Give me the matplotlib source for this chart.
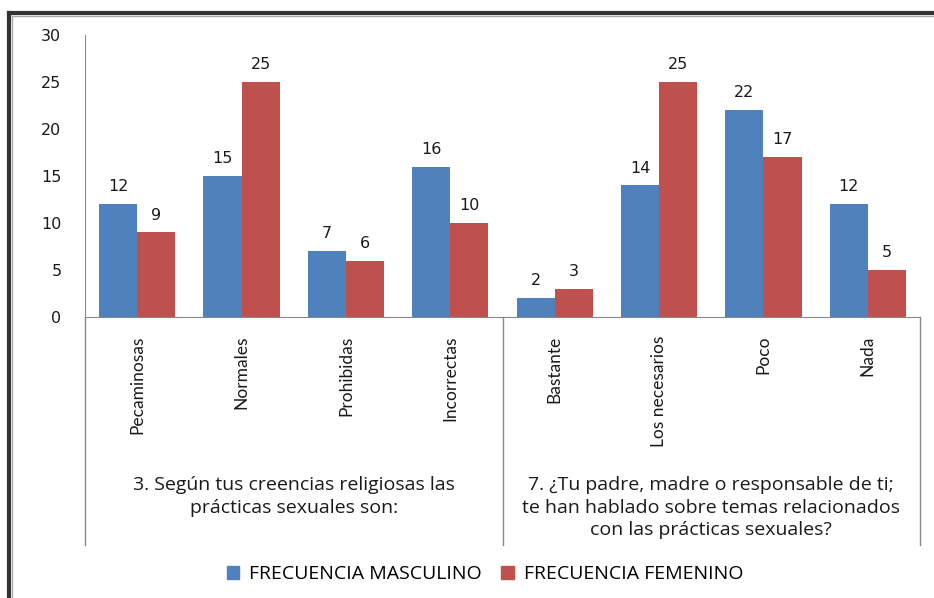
import numpy as np
import matplotlib
matplotlib.use("Agg")
import matplotlib.pyplot as plt
from matplotlib.lines import Line2D

# data
categorias = ["Pecaminosas", "Normales", "Prohibidas", "Incorrectas",
              "Bastante", "Los necesarios", "Poco", "Nada"]
masculino = [12, 15, 7, 16, 2, 14, 22, 12]
femenino = [9, 25, 6, 10, 3, 25, 17, 5]
grupos = ["3. Según tus creencias religiosas las\nprácticas sexuales son:",
          "7. ¿Tu padre, madre o responsable de ti;\nte han hablado sobre temas relacionados\ncon las prácticas sexuales?"]
series = ["FRECUENCIA MASCULINO", "FRECUENCIA FEMENINO"]
yticks = [0, 5, 10, 15, 20, 25, 30]

azul = "#4F81BD"
rojo = "#C0504D"
txt = "#1a1a1a"

fig = plt.figure(figsize=(9.34, 5.98), dpi=100)
ax = fig.add_axes([85/934, 1 - 317/598, (920 - 85)/934, (317 - 35)/598])

x = np.arange(len(categorias))
w = 0.365
b1 = ax.bar(x - w/2, masculino, w, color=azul)
b2 = ax.bar(x + w/2, femenino, w, color=rojo)

for bars in (b1, b2):
    for r in bars:
        ax.annotate(str(int(r.get_height())), (r.get_x() + r.get_width()/2, r.get_height()),
                    xytext=(0, 7), textcoords="offset points", ha="center", va="bottom",
                    fontsize=11.5, color=txt, family="DejaVu Sans")

ax.set_xlim(-0.5, len(categorias) - 0.5)
ax.set_ylim(0, 30)
ax.set_yticks(yticks)
ax.tick_params(axis="y", length=0, pad=17, labelsize=11.5, labelcolor=txt)
ax.set_xticks([])
for s in ("top", "right"):
    ax.spines[s].set_visible(False)
ax.spines["left"].set_color("#888888")
ax.spines["bottom"].set_color("#888888")

# category labels
for i, c in enumerate(categorias):
    ax.text(i, -0.065, c, transform=ax.get_xaxis_transform(), rotation=90,
            ha="center", va="top", fontsize=12.5, family="Lato", color=txt)

# separators under the axis
for xs in (-0.5, 3.5, 7.5):
    ax.plot([xs, xs], [0, -0.81], transform=ax.get_xaxis_transform(),
            color="#888888", lw=1, clip_on=False)

# group labels
ax.text(1.5, -0.565, grupos[0], transform=ax.get_xaxis_transform(), ha="center", va="top",
        fontsize=14, family="Open Sans", color=txt, linespacing=1.32)
ax.text(5.5, -0.565, grupos[1], transform=ax.get_xaxis_transform(), ha="center", va="top",
        fontsize=14, family="Open Sans", color=txt, linespacing=1.32)

# legend
h = [plt.Rectangle((0, 0), 1, 1, color=azul), plt.Rectangle((0, 0), 1, 1, color=rojo)]
fig.legend(h, series, loc="center", bbox_to_anchor=(485/934, 1 - 574/598), ncol=2,
           frameon=False, prop={"family": "Open Sans", "size": 14}, handlelength=0.65,
           handleheight=0.65, handletextpad=0.5, columnspacing=1.0)

# outer frame (left and top)
fig.add_artist(Line2D([9/934, 9/934], [0, 1 - 13/598], color="#333333", lw=3))
fig.add_artist(Line2D([9/934, 1], [1 - 13/598, 1 - 13/598], color="#333333", lw=3))
fig.add_artist(Line2D([12/934, 12/934], [0, 1 - 16/598], color="#aaaaaa", lw=1))
fig.add_artist(Line2D([12/934, 1], [1 - 16/598, 1 - 16/598], color="#aaaaaa", lw=1))

fig.savefig("out.png", dpi=100)
